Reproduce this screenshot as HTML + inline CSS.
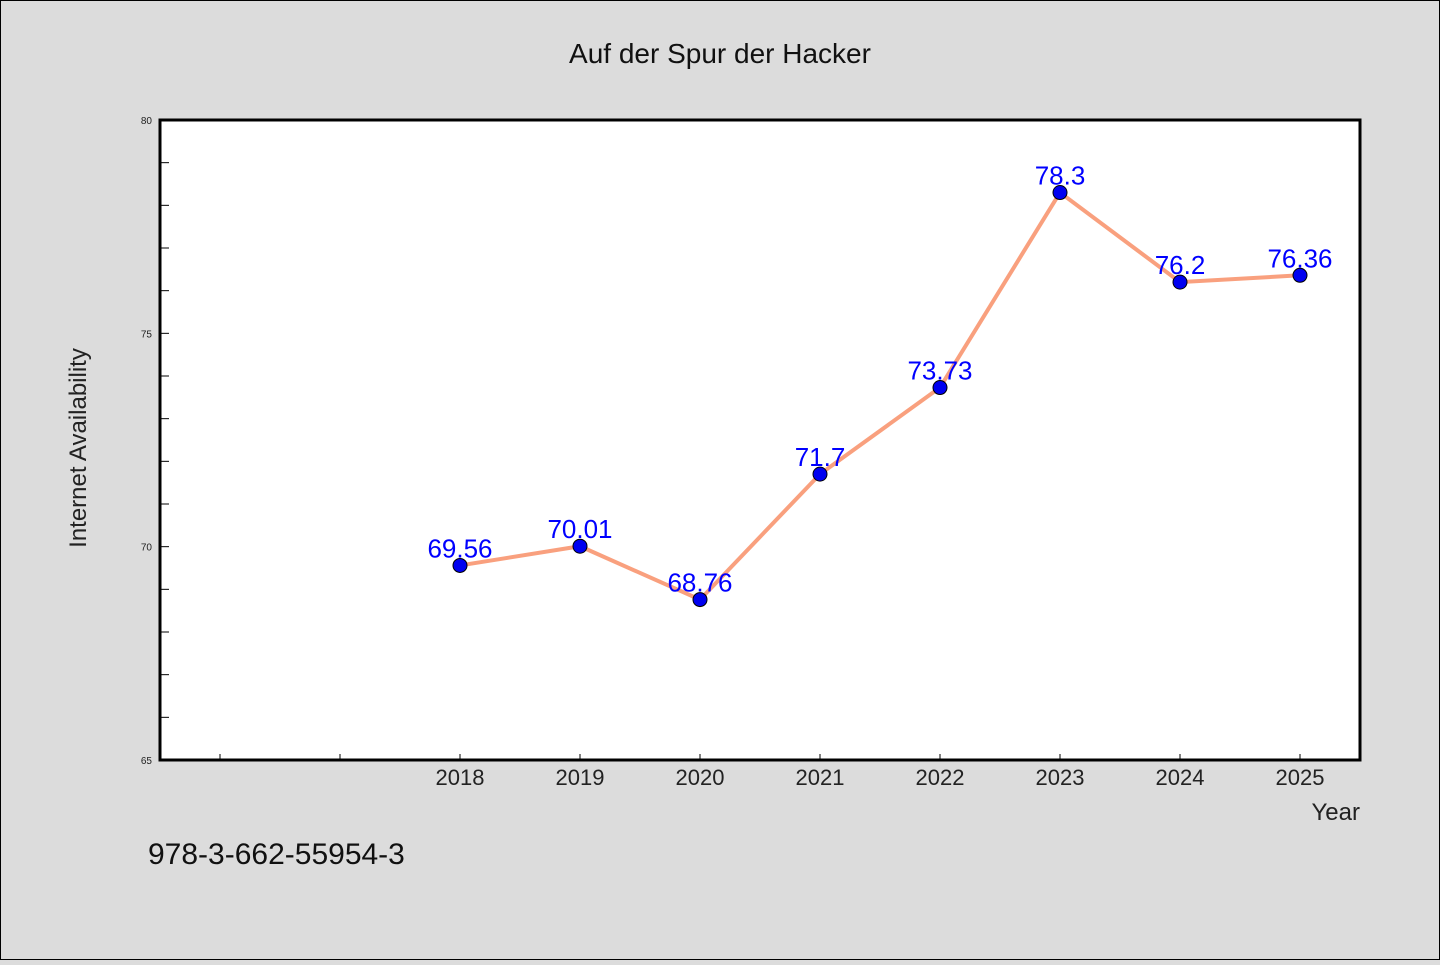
<!DOCTYPE html>
<html><head><meta charset="utf-8"><style>
body{margin:0;background:#dcdcdc;}
svg text{font-family:"WenQuanYi Zen Hei","Liberation Sans",sans-serif;}
</style></head><body>
<svg width="1440" height="960">
<rect x="0.5" y="0.5" width="1439" height="959" fill="#dcdcdc" stroke="#000"/>
<text x="720" y="63" font-size="28" text-anchor="middle" fill="#111">Auf der Spur der Hacker</text>
<rect x="160" y="120" width="1200" height="640" fill="#fff" stroke="#000" stroke-width="3"/>
<g id="axes"></g>
<g id="marks"></g>
<text x="86" y="448" font-size="24" text-anchor="middle" fill="#222" transform="rotate(-90 86 448)">Internet Availability</text>
<text x="1360" y="820" font-size="24" text-anchor="end" fill="#222">Year</text>
<text x="148" y="864" font-size="30" fill="#111">978-3-662-55954-3</text>
</svg>
<script>
const years=[2018,2019,2020,2021,2022,2023,2024,2025];
const values=[69.56,70.01,68.76,71.7,73.73,78.3,76.2,76.36];
const labels=["69.56","70.01","68.76","71.7","73.73","78.3","76.2","76.36"];
const yTicks=[65,70,75,80];
const xTicks=[2016,2017,2018,2019,2020,2021,2022,2023,2024,2025];
const NS="http://www.w3.org/2000/svg";
const X=v=>160+(v-2015.5)*120;
const Y=v=>760-(v-65)*640/15;
function mk(t,a,p){const e=document.createElementNS(NS,t);for(const k in a)e.setAttribute(k,a[k]);p.appendChild(e);return e;}
const ax=document.getElementById('axes'),mg=document.getElementById('marks');
for(let v=65;v<=80;v++){const l=mk('line',{x1:160,x2:169,y1:Y(v),y2:Y(v),stroke:'#000','stroke-width':1},ax);

}
yTicks.forEach(v=>{const t=mk('text',{x:152,y:Y(v)+4,'font-size':10,'text-anchor':'end',fill:'#222'},ax);t.textContent=v;

});
xTicks.forEach(v=>{const l=mk('line',{x1:X(v),x2:X(v),y1:760,y2:754,stroke:'#000','stroke-width':1},ax);


if(v>=2018){const t=mk('text',{x:X(v),y:785,'font-size':22,'text-anchor':'middle',fill:'#222'},ax);t.textContent=v;

}});
const pl=mk('polyline',{points:years.map((y,i)=>X(y)+','+Y(values[i])).join(' '),fill:'none',stroke:'#f9a07e','stroke-width':4},mg);


years.forEach((y,i)=>{const c=mk('circle',{cx:X(y),cy:Y(values[i]),r:7,fill:'#0000f0',stroke:'#000','stroke-width':1},mg);


const t=mk('text',{x:X(y),y:Y(values[i])-8,'font-size':26,'text-anchor':'middle',fill:'#0000ff'},mg);t.textContent=labels[i];

});
</script>
</body></html>
